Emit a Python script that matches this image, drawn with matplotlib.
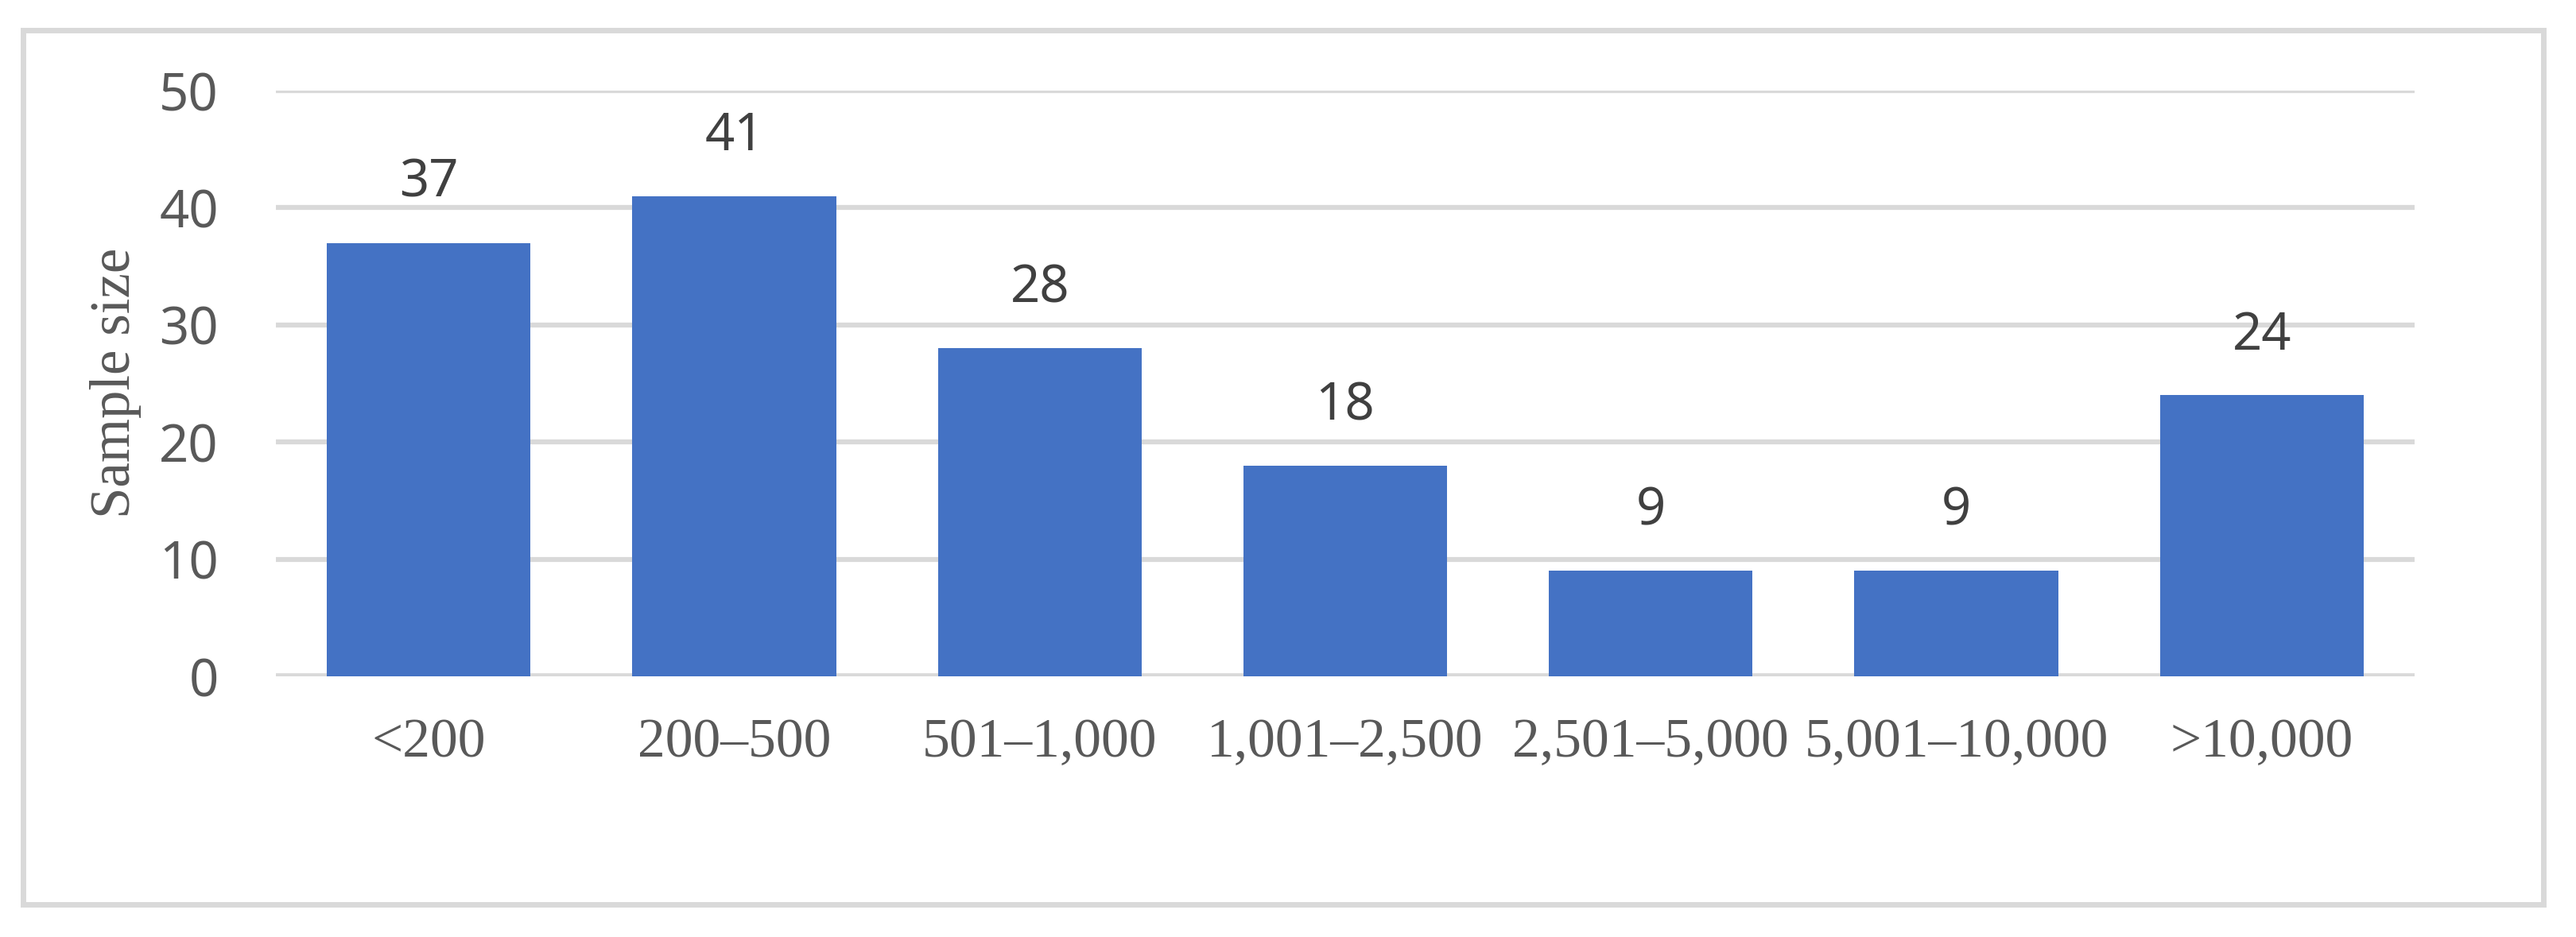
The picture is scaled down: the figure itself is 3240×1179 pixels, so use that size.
import numpy as np
import matplotlib.pyplot as plt
from matplotlib.patches import Rectangle

#----- data
categories = ['<200', '200\u2013500', '501\u20131,000', '1,001\u20132,500',
              '2,501\u20135,000', '5,001\u201310,000', '>10,000']
sample_size = [37, 41, 28, 18, 9, 9, 24]
yticks = [0, 10, 20, 30, 40, 50]

bar_col = '#4472C4'
grid_col = '#D9D9D9'

fig = plt.figure(figsize=(32.41, 11.79), dpi=100)
ax = fig.add_axes([0.1071, 0.2782, 0.8299, 0.6251])

x = np.arange(len(categories))
bars = ax.bar(x, sample_size, width=0.667, color=bar_col, zorder=3)

ax.set_xlim(-0.5, len(categories) - 0.5)
ax.set_ylim(0, 50)
ax.set_yticks(yticks)
ax.set_xticks(x)
ax.set_xticklabels(categories, fontfamily='Liberation Serif', fontsize=50, color='#595959')
for lab in ax.get_yticklabels():
    lab.set_fontfamily('Noto Sans')
ax.tick_params(axis='y', length=0, pad=52, labelsize=47, labelcolor='#595959')
ax.tick_params(axis='x', length=0, pad=38)

ax.yaxis.grid(True, color=grid_col, linewidth=4.5, zorder=0)
ax.axhline(0, color=grid_col, linewidth=5.5, zorder=2)
for s in ax.spines.values():
    s.set_visible(False)

# value labels
for b, v in zip(bars, sample_size):
    ax.annotate(str(v), (b.get_x() + b.get_width() / 2, v), xytext=(0, 30),
                textcoords='offset points', ha='center', va='bottom',
                fontsize=47, fontfamily='Noto Sans', color='#404040')

fig.text(0.045, 0.591, 'Sample size', rotation=90, ha='center', va='center',
         fontsize=51, fontfamily='Liberation Serif', color='#595959')

# chart frame
fig.patches.append(Rectangle((0.009, 0.035), 0.978, 0.933, transform=fig.transFigure,
                             fill=False, edgecolor=grid_col, linewidth=5))

fig.savefig('out.png', dpi=100)
